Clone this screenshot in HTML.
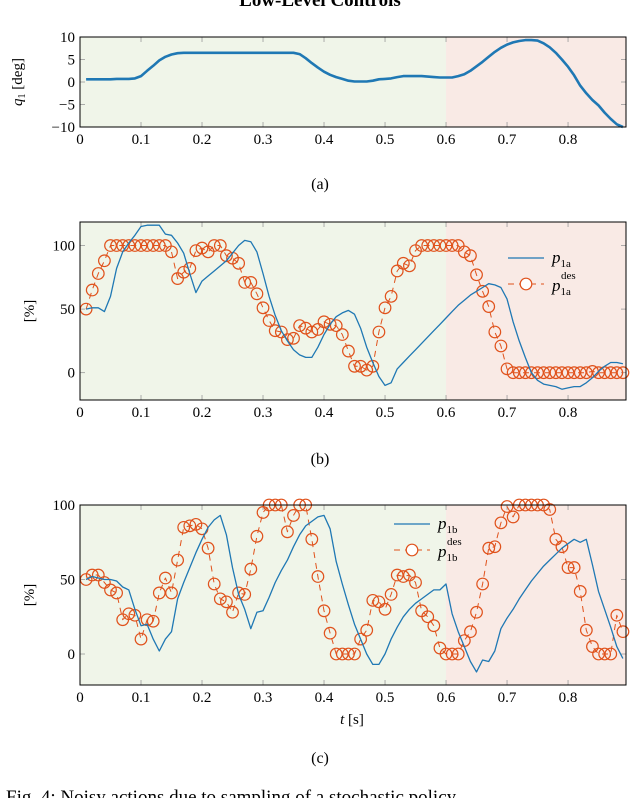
<!DOCTYPE html>
<html><head><meta charset="utf-8">
<style>
html,body{margin:0;padding:0;background:#fff;}
body{width:640px;height:798px;overflow:hidden;position:relative;font-family:"Liberation Serif",serif;}
svg{position:absolute;left:0;top:0;}
</style></head>
<body>
<svg id="fig" width="640" height="798" viewBox="0 0 640 798" font-family="Liberation Serif, serif">
<text x="320" y="6" text-anchor="middle" font-size="19" font-weight="bold">Low-Level Controls</text>
<text x="320" y="189" text-anchor="middle" font-size="16">(a)</text>
<text x="320" y="464" text-anchor="middle" font-size="16">(b)</text>
<text x="320" y="763" text-anchor="middle" font-size="16">(c)</text>
<text x="6" y="803" font-size="19">Fig. 4: Noisy actions due to sampling of a stochastic policy</text>
<text x="352" y="724" text-anchor="middle" font-size="15"><tspan font-style="italic">t</tspan> [s]</text>
</svg>
<script>
const times = [];
for (let i = 1; i <= 89; i++) times.push(i / 100);
const xTicks = [0, 0.1, 0.2, 0.3, 0.4, 0.5, 0.6, 0.7, 0.8];
const xTickLabels = ["0","0.1","0.2","0.3","0.4","0.5","0.6","0.7","0.8"];
const q1Values = [0.6,0.6,0.6,0.6,0.6,0.7,0.7,0.7,0.8,1.3,2.5,3.6,4.8,5.6,6.1,6.4,6.5,6.5,6.5,6.5,6.5,6.5,6.5,6.5,6.5,6.5,6.5,6.5,6.5,6.5,6.5,6.5,6.5,6.5,6.5,6.2,5.3,4.2,3.2,2.3,1.6,1.1,0.7,0.3,0.1,0.1,0.1,0.3,0.6,0.7,0.8,1.1,1.3,1.3,1.3,1.3,1.2,1.1,1.0,1.0,1.0,1.3,1.7,2.5,3.5,4.5,5.6,6.7,7.6,8.3,8.8,9.1,9.3,9.3,9.2,8.6,7.7,6.5,5.0,3.4,1.5,-0.8,-2.5,-4.0,-5.2,-6.8,-8.2,-9.4,-10];
const p1aValues = [50,51,51,48,60,82,95,102,108,115,116,116,116,109,108,102,94,78,63,72,76,80,84,88,94,100,104,103,95,78,60,45,33,25,18,14,12,12,20,30,38,44,47,49,46,35,20,8,-3,-10,-8,3,8,13,18,23,28,33,38,43,48,53,57,61,64,67,70,69,67,58,40,25,12,0,-6,-9,-10,-11,-13,-12,-11,-11,-8,-4,1,5,8,8,7];
const p1aDes = [50,65,78,88,100,100,100,100,100,100,100,100,100,100,95,74,79,82,96,98,95,100,100,92,90,86,71,71,62,51,41,33,32,26,27,37,35,32,34,40,38,37,30,17,5,5,2,5,32,51,60,80,86,84,96,100,100,100,100,100,100,100,95,92,77,64,52,32,21,3,0,0,0,0,0,0,0,0,0,0,0,0,0,1,0,0,0,0,0];
const p1bValues = [50,52,51,50,50,49,45,43,30,19,20,10,2,10,15,37,48,58,68,77,85,90,93,80,58,40,30,17,28,29,38,48,56,63,72,80,86,89,92,93,84,62,47,33,20,10,0,-7,-7,0,10,18,25,30,34,37,40,43,43,47,27,15,5,-5,-12,-4,-5,2,17,24,30,37,43,49,54,59,63,67,71,74,77,75,77,60,42,30,18,5,-3];
const p1bDes = [50,53,53,48,43,41,23,27,26,10,23,22,41,51,41,63,85,86,87,84,71,47,37,35,28,41,40,57,79,95,100,100,100,82,93,100,100,77,52,29,14,0,0,0,0,10,16,36,35,30,40,53,52,53,48,29,25,19,4,0,0,0,9,15,28,47,71,72,88,99,92,100,100,100,100,100,97,77,72,58,58,42,16,5,0,0,0,26,15];
const yTicksA = [-10,-5,0,5,10];
const yTicksB = [0,50,100];

const NS = "http://www.w3.org/2000/svg";
const svg = document.getElementById("fig");
const BLUE = "#1f78b4", ORANGE = "#e0521c";
function mk(tag, attrs, parent) {
  const e = document.createElementNS(NS, tag);
  for (const k in attrs) e.setAttribute(k, attrs[k]);
  (parent || svg).appendChild(e);
  return e;
}
function panel(name, top, bottom, ymin, ymax, yTicks, ylabel) {
  const L = 80, R = 626, tmax = 0.895;
  const g = mk("g", {});
  
  
  const X = t => L + (t / tmax) * (R - L);
  const Y = v => bottom - (v - ymin) / (ymax - ymin) * (bottom - top);
  const bg1 = mk("rect", {x: L, y: top, width: X(0.6) - L, height: bottom - top, fill: "#f0f5e9"}, g);
  
  
  const bg2 = mk("rect", {x: X(0.6), y: top, width: R - X(0.6), height: bottom - top, fill: "#f9eae5"}, g);
  
  
  xTicks.forEach((t, i) => {
    mk("line", {x1: X(t), x2: X(t), y1: bottom, y2: bottom - 5, stroke: "#999", "stroke-width": 0.8}, g);
    mk("line", {x1: X(t), x2: X(t), y1: top, y2: top + 5, stroke: "#999", "stroke-width": 0.8}, g);
    const tx = mk("text", {x: X(t), y: bottom + 17, "text-anchor": "middle", "font-size": 15}, g);
    tx.textContent = xTickLabels[i];
    
    
  });
  yTicks.forEach(v => {
    mk("line", {x1: L, x2: L + 5, y1: Y(v), y2: Y(v), stroke: "#999", "stroke-width": 0.8}, g);
    mk("line", {x1: R, x2: R - 5, y1: Y(v), y2: Y(v), stroke: "#999", "stroke-width": 0.8}, g);
    const tx = mk("text", {x: L - 5, y: Y(v) + 5, "text-anchor": "end", "font-size": 15}, g);
    tx.textContent = v < 0 ? "\u2212" + Math.abs(v) : String(v);
    
    
  });
  const yl = mk("text", {x: 0, y: 0, "text-anchor": "middle", "font-size": 15, transform: `translate(${ylabel.x},${(top + bottom) / 2}) rotate(-90)`}, g);
  yl.innerHTML = ylabel.html;
  
  
  return {g, X, Y, L, R, top, bottom};
}
function line(p, vals, color, w, name, dash) {
  const d = vals.map((v, i) => (i ? "L" : "M") + p.X(times[i]).toFixed(1) + "," + p.Y(v).toFixed(1)).join("");
  const e = mk("path", {d, fill: "none", stroke: color, "stroke-width": w, "stroke-linejoin": "round"}, p.g);
  if (dash) e.setAttribute("stroke-dasharray", dash);
  
  
}
function markers(p, vals, name) {
  const g = mk("g", {}, p.g);
  
  
  vals.forEach((v, i) => {
    const c = mk("circle", {cx: p.X(times[i]), cy: p.Y(v), r: 5.8, fill: "none", stroke: ORANGE, "stroke-width": 1.2}, g);
    
    
  });
}
function frame(p) {
  const f = mk("rect", {x: p.L, y: p.top, width: p.R - p.L, height: p.bottom - p.top, fill: "none", stroke: "#000", "stroke-width": 1}, p.g);
  
  
}
function legend(p, x, y, sub) {
  const g = mk("g", {}, p.g);
  
  
  mk("line", {x1: x, x2: x + 36, y1: y, y2: y, stroke: BLUE, "stroke-width": 1.3}, g);
  const t1 = mk("text", {x: x + 44, y: y + 5, "font-size": 17}, g);
  t1.innerHTML = `<tspan font-style="italic">p</tspan><tspan font-size="11" dy="4">1${sub}</tspan>`;
  
  
  mk("line", {x1: x, x2: x + 36, y1: y + 26, y2: y + 26, stroke: ORANGE, "stroke-width": 1.1, "stroke-dasharray": "6,5"}, g);
  mk("circle", {cx: x + 18, cy: y + 26, r: 5.8, fill: "#fff", stroke: ORANGE, "stroke-width": 1.2}, g);
  const t2 = mk("text", {x: x + 44, y: y + 33, "font-size": 17}, g);
  t2.innerHTML = `<tspan font-style="italic">p</tspan><tspan font-size="11" dy="4">1${sub}</tspan>`;
  
  
  const t3 = mk("text", {x: x + 53, y: y + 21, "font-size": 11}, g);
  t3.textContent = "des";
  
  
}
// Panel a
const pa = panel("panel-a-joint-angle", 37, 127, -10, 10, yTicksA, {x: 22, html: '<tspan font-style="italic">q</tspan><tspan font-size="10" dy="3">1</tspan><tspan dy="-3"> [deg]</tspan>'});
line(pa, q1Values, BLUE, 2.6, "q1-line");
frame(pa);
// Panel b
const pb = panel("panel-b-p1a", 222, 400, -21.5, 118.5, yTicksB, {x: 34, html: "[%]"});
line(pb, p1aDes, ORANGE, 1, "p1a-des-dashed", "6,5");
markers(pb, p1aDes, "p1a-des-markers");
line(pb, p1aValues, BLUE, 1.3, "p1a-line");
legend(pb, 508, 258, "a");
frame(pb);
// Panel c
const pc = panel("panel-c-p1b", 505, 685, -20.8, 100, yTicksB, {x: 34, html: "[%]"});
line(pc, p1bDes, ORANGE, 1, "p1b-des-dashed", "6,5");
markers(pc, p1bDes, "p1b-des-markers");
line(pc, p1bValues, BLUE, 1.3, "p1b-line");
legend(pc, 394, 524, "b");
frame(pc);
</script>
</body></html>
